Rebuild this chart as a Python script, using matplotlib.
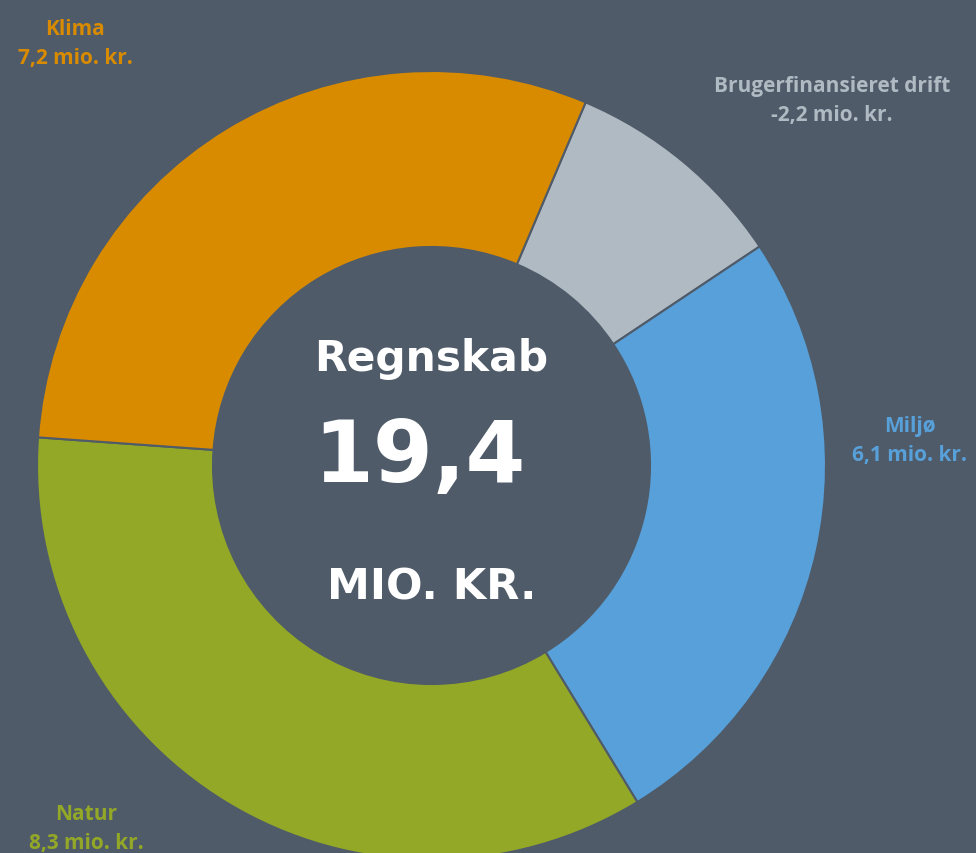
import numpy as np
import matplotlib
matplotlib.use("Agg")
import matplotlib.pyplot as plt

# data (mio. kr.)
categories = ["Brugerfinansieret drift", "Miljø", "Natur", "Klima"]
values = [-2.2, 6.1, 8.3, 7.2]
colors = ["#B0BAC3", "#58A0D9", "#93A826", "#D98B00"]

BG = "#4F5B69"
W, H = 976, 854

# label anchor positions in pixels (x, y from top)
label_pos = [(832, 101), (910, 441), (86, 829), (75, 44)]

def fmt(v):
    return f"{v:.1f}".replace(".", ",")

fig = plt.figure(figsize=(W / 100, H / 100), dpi=100, facecolor=BG)
ax = fig.add_axes([0, 0, 1, 1])
ax.set_facecolor(BG)

cx, cy = 431.5, H - 466.5
r_out, r_in = 394.5, 218.5

sizes = np.abs(values)
ax.pie(sizes, colors=colors, startangle=67, counterclock=False,
       center=(cx, cy), radius=r_out,
       wedgeprops=dict(width=r_out - r_in, edgecolor=BG, linewidth=1.5))

ax.set_xlim(0, W)
ax.set_ylim(0, H)
ax.set_aspect("equal")
ax.axis("off")

lab_font = ["Open Sans", "DejaVu Sans"]
for name, v, c, (px, py) in zip(categories, values, colors, label_pos):
    ax.text(px, H - py, f"{name}\n{fmt(v)} mio. kr.", color=c, ha="center", va="center",
            fontsize=15, fontweight="bold", family=lab_font, linespacing=1.5)

total = sum(values)
ax.text(cx, H - 359, "Regnskab", color="white", ha="center", va="center",
        fontsize=30.5, fontweight="bold", family="DejaVu Sans")
ax.text(cx - 12, H - 459, fmt(total), color="white", ha="center", va="center",
        fontsize=62, fontweight="bold", family="DejaVu Sans")
ax.text(cx, H - 587, "MIO. KR.", color="white", ha="center", va="center",
        fontsize=31, fontweight="bold", family="DejaVu Sans")

fig.savefig("out.png", dpi=100, facecolor=BG)
